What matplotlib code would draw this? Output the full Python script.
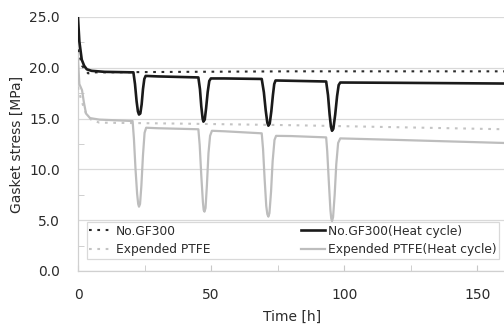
import matplotlib
matplotlib.use("Agg")
import matplotlib.pyplot as plt
from matplotlib.ticker import MultipleLocator, FixedLocator

# gasket stress vs time, continuous hold and with heat cycles
gf300_t = [0, 0.8, 1.5, 3.8, 6, 40, 80, 120, 160]
gf300_s = [21.8, 21.0, 20.2, 19.45, 19.55, 19.6, 19.65, 19.65, 19.65]

ptfe_t = [0, 0.6, 1.5, 3.0, 4.9, 8, 40, 80, 120, 160]
ptfe_s = [18.1, 17.4, 16.6, 15.5, 14.9, 14.6, 14.5, 14.35, 14.15, 13.95]

gf300_hc_t = [0, 0.5, 1.4, 2.3, 3.3, 5.1, 10,
              20.8, 21.4, 22.0, 22.5, 22.9, 23.4, 23.9, 24.4, 24.9, 25.4, 30,
              45.2, 45.8, 46.3, 46.8, 47.1, 47.6, 48.1, 48.7, 49.3, 49.9, 55,
              69.0, 69.8, 70.5, 71.1, 71.5, 72.0, 72.6, 73.2, 73.7, 74.2, 80,
              93.2, 93.9, 94.5, 95.0, 95.4, 95.9, 96.6, 97.3, 97.9, 98.5, 120, 160]
gf300_hc_s = [24.9, 22.6, 20.8, 20.2, 19.85, 19.7, 19.6,
              19.55, 18.4, 16.7, 15.7, 15.4, 15.5, 16.4, 17.9, 18.9, 19.2, 19.15,
              19.05, 17.9, 16.2, 15.0, 14.7, 14.9, 16.0, 17.6, 18.7, 18.95, 18.95,
              18.9, 17.6, 15.8, 14.6, 14.3, 14.5, 15.7, 17.3, 18.4, 18.75, 18.72,
              18.65, 17.3, 15.4, 14.2, 13.8, 14.0, 15.4, 17.2, 18.3, 18.55, 18.52, 18.45]

ptfe_hc_t = [0, 0.5, 1.5, 2.2, 3.0, 4.5, 8,
             20.5, 21.0, 21.6, 22.2, 22.6, 22.9, 23.3, 23.8, 24.4, 25.0, 25.6, 30,
             45.2, 45.7, 46.3, 46.9, 47.2, 47.5, 47.9, 48.4, 49.0, 49.6, 50.3, 55,
             69.0, 69.5, 70.1, 70.7, 71.1, 71.5, 71.9, 72.5, 73.1, 73.8, 74.4, 80,
             93.2, 93.6, 94.2, 94.8, 95.1, 95.4, 95.8, 96.4, 97.0, 97.7, 98.5, 120, 160]
ptfe_hc_s = [20.8, 18.4, 17.8, 16.6, 15.5, 15.05, 14.9,
             14.76, 13.0, 10.0, 7.6, 6.6, 6.33, 6.6, 8.4, 11.4, 13.6, 14.1, 14.05,
             13.95, 12.4, 9.4, 6.8, 6.0, 5.84, 6.2, 8.4, 11.6, 13.3, 13.8, 13.75,
             13.55, 12.0, 9.0, 6.4, 5.6, 5.35, 5.7, 7.8, 10.8, 12.9, 13.3, 13.28,
             13.15, 11.8, 8.8, 6.0, 5.2, 4.9, 5.3, 7.5, 10.5, 12.6, 13.05, 12.9, 12.6]

x_ticks = [0, 50, 100, 150]
y_ticks = [0, 5, 10, 15, 20, 25]

plt.rcParams['font.family'] = ['DejaVu Sans']

fig = plt.figure(figsize=(5.04, 3.24), dpi=100)
ax = fig.add_axes([0.1548, 0.1636, 0.8452, 0.784])

ax.plot(gf300_t, gf300_s, color='#2a2a2a', lw=1.5, dashes=(1.3, 2.7),
        label='No.GF300', zorder=3)
ax.plot(ptfe_t, ptfe_s, color='#c4c4c4', lw=1.5, dashes=(1.3, 2.7),
        label='Expended PTFE', zorder=3)
ax.plot(gf300_hc_t, gf300_hc_s, color='#1a1a1a', lw=1.9,
        label='No.GF300(Heat cycle)', zorder=4)
ax.plot(ptfe_hc_t, ptfe_hc_s, color='#bdbdbd', lw=1.6,
        label='Expended PTFE(Heat cycle)', zorder=3)

ax.set_xlim(0, 160)
ax.set_ylim(0, 25)
ax.set_xticks(x_ticks)
ax.xaxis.set_minor_locator(FixedLocator([25, 75, 125]))
ax.set_yticks(y_ticks)
ax.set_yticklabels([f'{v:.1f}' for v in y_ticks])
ax.yaxis.set_minor_locator(MultipleLocator(2.5))

ax.grid(axis='y', which='major', color='#d9d9d9', lw=0.9)
ax.set_axisbelow(True)
for side in ['top', 'right']:
    ax.spines[side].set_visible(False)
for side in ['left', 'bottom']:
    ax.spines[side].set_color('#d0d0d0')
    ax.spines[side].set_linewidth(0.9)

ax.tick_params(axis='x', which='both', direction='in', length=4, color='#c8c8c8',
               labelsize=10, labelcolor='#2b2b2b', pad=12)
ax.tick_params(axis='y', which='major', length=0, labelsize=10,
               labelcolor='#2b2b2b', pad=13)
ax.tick_params(axis='y', which='minor', direction='in', length=4, color='#c8c8c8')

ax.set_xlabel('Time [h]', fontsize=10, color='#2b2b2b')
ax.xaxis.set_label_coords(0.502, -0.154)
ax.set_ylabel('Gasket stress [MPa]', fontsize=10, color='#2b2b2b')
ax.yaxis.set_label_coords(-0.127, 0.5)

leg = ax.legend(ncol=2, loc='upper left', bbox_to_anchor=(0.02, 0.05, 0.968, 0.142),
                mode='expand', borderaxespad=0, fontsize=8.8, frameon=True,
                fancybox=False, edgecolor='#d0d0d0', handlelength=2.0,
                handletextpad=0.2, labelspacing=0.45, borderpad=0.2)
leg.get_frame().set_linewidth(0.9)
for txt in leg.get_texts():
    txt.set_color('#2b2b2b')

fig.savefig('out.png', dpi=100)
